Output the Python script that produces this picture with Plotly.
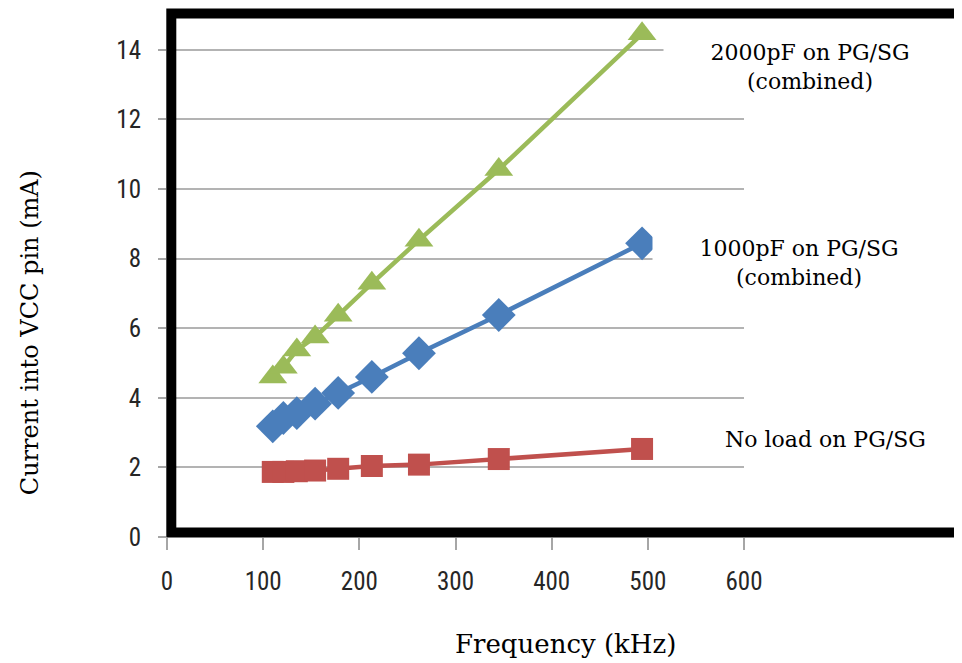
import plotly.graph_objects as go

freq_khz = [110, 121, 135, 154, 178, 213, 262, 345, 494]
no_load = [1.87, 1.87, 1.89, 1.91, 1.96, 2.04, 2.08, 2.24, 2.53]
load_1000pf = [3.18, 3.42, 3.56, 3.83, 4.14, 4.60, 5.28, 6.38, 8.44]
load_2000pf = [4.60, 4.88, 5.37, 5.75, 6.37, 7.29, 8.53, 10.56, 14.46]

x_ticks = [0, 100, 200, 300, 400, 500, 600]
y_ticks = [0, 2, 4, 6, 8, 10, 12, 14]

OFF = 8  # page body margin
W, H = 962 - OFF, 663 - OFF
pw, ph = 577.3, 522.9
L = 166.7 - OFF
T = 14.6 - OFF
R = W - L - pw
B = H - T - ph

def xp(px):
    return (px - OFF - L) / pw

def yp(py):
    return (H - B - (py - OFF)) / ph

fig = go.Figure()
series = [
    (no_load, "#C0504D", "square", 22, "No load on PG/SG"),
    (load_1000pf, "#4A7EBB", "diamond", 26, "1000pF on PG/SG"),
    (load_2000pf, "#9BBB59", "triangle-up", 25, "2000pF on PG/SG"),
]
for ys, col, sym, sz, name in series:
    fig.add_trace(go.Scatter(
        x=freq_khz, y=ys, mode="lines+markers", name=name,
        line=dict(color=col, width=4.5),
        marker=dict(color=col, symbol=sym, size=sz, line=dict(width=0)),
        cliponaxis=False,
    ))

tick_font = dict(family="Liberation Sans Narrow, Roboto Condensed, Roboto", size=25, color="#262626")
serif = "DejaVu Serif"

fig.update_layout(
    width=W, height=H,
    margin=dict(l=L, r=R, t=T, b=B),
    paper_bgcolor="white", plot_bgcolor="white",
    showlegend=False,
    xaxis=dict(
        range=[0, 600], tickvals=x_ticks, ticktext=[str(v) for v in x_ticks],
        showgrid=False, zeroline=False, showline=False,
        ticks="outside", ticklen=12, tickwidth=1.5, tickcolor="#A6A6A6",
        ticklabelstandoff=10,
        tickfont=tick_font,
    ),
    yaxis=dict(
        range=[0, 15], tickvals=y_ticks, ticktext=[str(v) for v in y_ticks],
        showgrid=True, gridcolor="#B3B3B3", gridwidth=1.5,
        zeroline=False, showline=False,
        ticks="outside", ticklen=8, tickwidth=1.5, tickcolor="#A6A6A6",
        ticklabelstandoff=12,
        tickfont=tick_font,
    ),
)

# axis titles placed as in the reference
fig.add_annotation(xref="paper", yref="paper", x=xp(565), y=yp(645),
                   text="Frequency (kHz)", showarrow=False,
                   font=dict(family=serif, size=26, color="black"),
                   xanchor="center", yanchor="middle")
fig.add_annotation(xref="paper", yref="paper", x=xp(29), y=yp(333),
                   text="Current into VCC pin (mA)", showarrow=False, textangle=-90,
                   font=dict(family=serif, size=24, color="black"),
                   xanchor="center", yanchor="middle")

ann_font = dict(family=serif, size=22, color="black")
fig.add_annotation(xref="paper", yref="paper", x=xp(810), y=yp(67),
                   text="2000pF on PG/SG<br>(combined)", showarrow=False,
                   font=ann_font, bgcolor="white", width=290, height=64,
                   align="center", xanchor="center", yanchor="middle")
fig.add_annotation(xref="paper", yref="paper", x=xp(799), y=yp(263),
                   text="1000pF on PG/SG<br>(combined)", showarrow=False,
                   font=ann_font, bgcolor="white", width=290, height=64,
                   align="center", xanchor="center", yanchor="middle")
fig.add_annotation(xref="paper", yref="paper", x=xp(826), y=yp(440),
                   text="No load on PG/SG", showarrow=False,
                   font=ann_font, align="center", xanchor="center", yanchor="middle")

# hand-drawn frame around the plot
fig.add_shape(type="rect", xref="paper", yref="paper",
              x0=xp(171), x1=xp(990), y0=yp(533), y1=yp(13),
              line=dict(color="black", width=10), fillcolor="rgba(0,0,0,0)", layer="above")
fig.add_shape(type="line", xref="paper", yref="paper",
              x0=xp(960.5), x1=xp(960.5), y0=yp(533), y1=yp(13),
              line=dict(color="#888888", width=1.5), layer="above")

fig.write_html("out.html")
